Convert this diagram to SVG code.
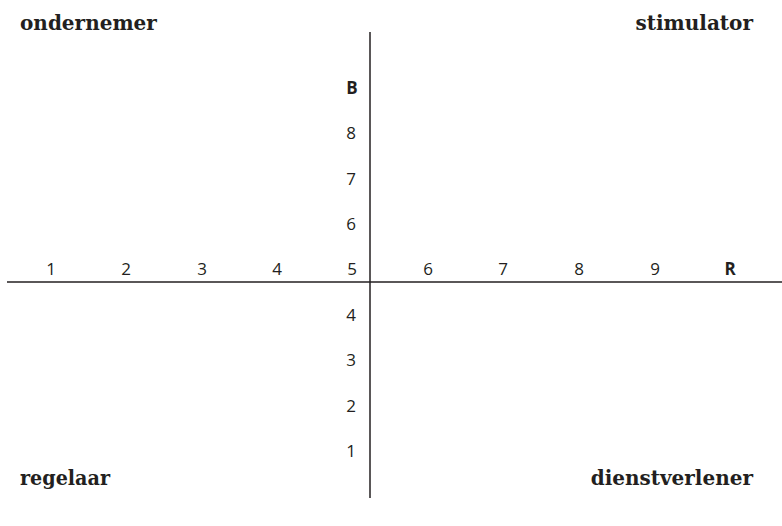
<svg xmlns="http://www.w3.org/2000/svg" width="782" height="526" viewBox="0 0 782 526">
<style>
.t{font-family:"DejaVu Serif",serif;font-weight:bold;font-size:20px;fill:#231f20}
.n{font-family:"Open Sans","Noto Sans",sans-serif;font-size:17px;fill:#231f20;text-anchor:middle}
.b{font-weight:bold}
.ax{stroke:#231f20;stroke-width:1.5;fill:none}
</style>
<rect width="782" height="526" fill="#fff"/>
<g id="axes">
<line class="ax" x1="370" y1="32" x2="370" y2="498"/>
<line class="ax" x1="7" y1="282" x2="782" y2="282"/>
</g>
<g id="x-labels">
<text class="n" x="51" y="275">1</text>
<text class="n" x="126" y="275">2</text>
<text class="n" x="202" y="275">3</text>
<text class="n" x="277" y="275">4</text>
<text class="n" x="352" y="275">5</text>
<text class="n" x="428" y="275">6</text>
<text class="n" x="503" y="275">7</text>
<text class="n" x="579" y="275">8</text>
<text class="n" x="655" y="275">9</text>
<text class="n b" x="730" y="275">R</text>
</g>
<g id="y-labels">
<text class="n b" x="352" y="94">B</text>
<text class="n" x="351" y="139">8</text>
<text class="n" x="351" y="185">7</text>
<text class="n" x="351" y="230">6</text>
<text class="n" x="351" y="321">4</text>
<text class="n" x="351" y="366">3</text>
<text class="n" x="351" y="412">2</text>
<text class="n" x="351" y="457">1</text>
</g>
<g id="ondernemer"><text class="t" x="20" y="30">ondernemer</text></g>
<g id="stimulator"><text class="t" x="753" y="30" text-anchor="end">stimulator</text></g>
<g id="regelaar"><text class="t" x="20" y="485" textLength="90" lengthAdjust="spacingAndGlyphs">regelaar</text></g>
<g id="dienstverlener"><text class="t" x="753" y="485" text-anchor="end">dienstverlener</text></g>
</svg>
